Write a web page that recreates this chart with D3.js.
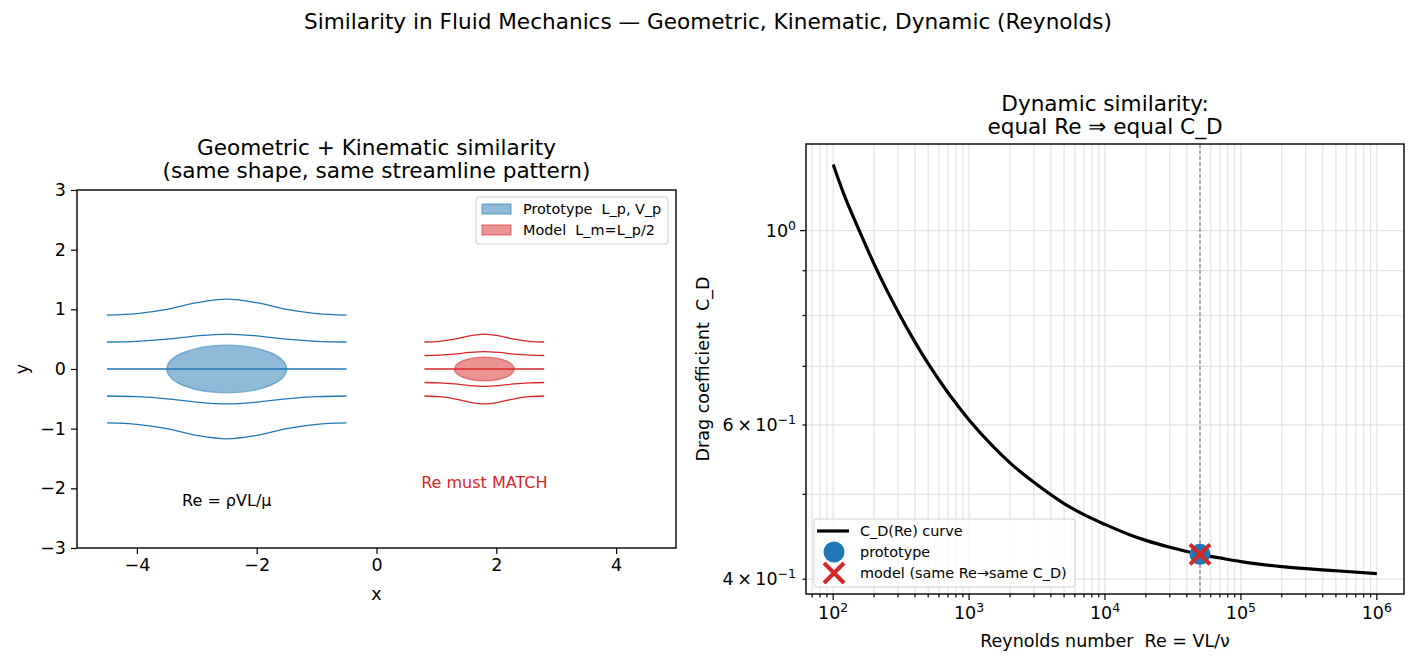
<!DOCTYPE html>
<html>
<head>
<meta charset="utf-8">
<script src="https://cdn.jsdelivr.net/npm/d3@7"></script>
<style>
body { margin: 0; background: #fff; }
text { font-family: "DejaVu Sans", sans-serif; fill: #000; white-space: pre; }
</style>
</head>
<body>
<div id="chart"></div>
<script>
// ---- left panel data ----
var bodyNames = ['Prototype  L_p, V_p', 'Model  L_m=L_p/2'];
var bodyCenters = [-2.5, 1.8];
var bodySemiX = [1.0, 0.5];
var bodySemiY = [0.4, 0.2];
var streamLevels = [[-0.9, -0.45, 0, 0.45, 0.9], [-0.45, -0.225, 0, 0.225, 0.45]];
// streamline shape: offset from body centre (in semi-lengths) and bulge factor
var streamDx = [-2, -1.5, -1, -0.5, 0, 0.5, 1, 1.5, 2];
var streamBulge = [1.005, 1.032, 1.11, 1.234, 1.3, 1.234, 1.11, 1.032, 1.005];

// ---- right panel data ----
var reValues = [100, 120, 150, 200, 250, 300, 400, 500, 700, 1e3, 1.5e3, 2e3, 3e3, 5e3, 7e3,
	1e4, 1.5e4, 2e4, 3e4, 5e4, 7e4, 1e5, 2e5, 5e5, 1e6];
var cdValues = [1.19, 1.10, 1.013, 0.916, 0.853, 0.808, 0.746, 0.705, 0.653, 0.608, 0.567, 0.543, 0.516, 0.488, 0.474,
	0.462, 0.450, 0.443, 0.435, 0.427, 0.423, 0.419, 0.4135, 0.409, 0.406];
var matchRe = 5e4;
var matchCd = 0.427;
var legendRight = ['C_D(Re) curve', 'prototype', 'model (same Re\u2192same C_D)'];

var blue = '#1f77b4', red = '#d62728';
var width = 1416, height = 665;
var tickFont = '17.5px', labelFont = '17.5px', titleFont = '21.6px', legendFont = '14.4px';

var svg = d3.select('#chart')
	.append('svg')
	.attr('width', width)
	.attr('height', height);

svg.append('text')
	.attr('x', 708).attr('y', 29)
	.attr('text-anchor', 'middle')
	.style('font-size', titleFont)
	.text('Similarity in Fluid Mechanics \u2014 Geometric, Kinematic, Dynamic (Reynolds)');

// ================= LEFT PANEL =================
var L = {left: 77, right: 676, top: 190, bottom: 548};
var x_left = d3.scaleLinear().domain([-5, 5]).range([L.left, L.right]);
var y_left = d3.scaleLinear().domain([-3, 3]).range([L.bottom, L.top]);

var gl = svg.append('g');

var line = d3.line()
	.x(function(d){ return x_left(d[0]); })
	.y(function(d){ return y_left(d[1]); })
	.curve(d3.curveMonotoneX);

// bodies
bodyCenters.forEach(function(cx, i){
	var col = i === 0 ? blue : red;
	gl.append('ellipse')
		.attr('cx', x_left(cx))
		.attr('cy', y_left(0))
		.attr('rx', x_left(cx + bodySemiX[i]) - x_left(cx))
		.attr('ry', y_left(0) - y_left(bodySemiY[i]))
		.attr('fill', col).attr('fill-opacity', 0.5)
		.attr('stroke', col).attr('stroke-opacity', 0.5).attr('stroke-width', 1.3);
});

// streamlines
bodyCenters.forEach(function(cx, i){
	var col = i === 0 ? blue : red;
	streamLevels[i].forEach(function(lv){
		var pts = streamDx.map(function(dx, k){
			return [cx + dx * bodySemiX[i], lv * streamBulge[k]];
		});
		gl.append('path')
			.attr('d', line(pts))
			.attr('fill', 'none')
			.attr('stroke', col)
			.attr('stroke-width', 1.3);
	});
});

gl.append('text')
	.attr('x', x_left(-2.5)).attr('y', y_left(-2.2) + 6)
	.attr('text-anchor', 'middle')
	.style('font-size', '16px')
	.text('Re = \u03c1VL/\u03bc');
gl.append('text')
	.attr('x', x_left(1.8)).attr('y', y_left(-1.9) + 6)
	.attr('text-anchor', 'middle')
	.style('font-size', '16px')
	.style('fill', red)
	.text('Re must MATCH');

// axes
var xAxisL = d3.axisBottom(x_left).tickValues([-4, -2, 0, 2, 4]).tickSize(6).tickPadding(5).tickFormat(d3.format('d'));
var yAxisL = d3.axisLeft(y_left).tickValues([-3, -2, -1, 0, 1, 2, 3]).tickSize(6).tickPadding(5).tickFormat(d3.format('d'));
gl.append('g').attr('transform', 'translate(0,' + L.bottom + ')').call(xAxisL);
gl.append('g').attr('transform', 'translate(' + L.left + ',0)').call(yAxisL);

gl.append('rect')
	.attr('x', L.left).attr('y', L.top)
	.attr('width', L.right - L.left).attr('height', L.bottom - L.top)
	.attr('fill', 'none').attr('stroke', '#000').attr('stroke-width', 1.4);

gl.append('text').attr('x', (L.left + L.right) / 2).attr('y', 600)
	.attr('text-anchor', 'middle').style('font-size', labelFont).text('x');
gl.append('text').attr('transform', 'translate(28,' + ((L.top + L.bottom) / 2) + ') rotate(-90)')
	.attr('text-anchor', 'middle').style('font-size', labelFont).text('y');

gl.append('text').attr('x', (L.left + L.right) / 2).attr('y', 155)
	.attr('text-anchor', 'middle').style('font-size', titleFont).text('Geometric + Kinematic similarity');
gl.append('text').attr('x', (L.left + L.right) / 2).attr('y', 178)
	.attr('text-anchor', 'middle').style('font-size', titleFont).text('(same shape, same streamline pattern)');

// legend (left)
var lg = gl.append('g');
lg.append('rect')
	.attr('x', 476).attr('y', 197).attr('width', 192).attr('height', 47).attr('rx', 3)
	.attr('fill', '#fff').attr('fill-opacity', 0.8).attr('stroke', '#d0d0d0');
bodyNames.forEach(function(name, i){
	var col = i === 0 ? blue : red;
	var cy = 209 + i * 21;
	lg.append('rect')
		.attr('x', 482).attr('y', cy - 5).attr('width', 29).attr('height', 10)
		.attr('fill', col).attr('fill-opacity', 0.5)
		.attr('stroke', col).attr('stroke-opacity', 0.5).attr('stroke-width', 1.3);
	lg.append('text').attr('x', 523).attr('y', cy + 5).style('font-size', legendFont).text(name);
});

// ================= RIGHT PANEL =================
var R = {left: 806, right: 1404, top: 144, bottom: 594};
// matplotlib-like 5% margins in log space
var lx = d3.extent(reValues).map(Math.log10), ly = d3.extent(cdValues).map(Math.log10);
var mx = (lx[1] - lx[0]) * 0.05, my = (ly[1] - ly[0]) * 0.05;
var x_right = d3.scaleLog().domain([Math.pow(10, lx[0] - mx), Math.pow(10, lx[1] + mx)]).range([R.left, R.right]);
var y_right = d3.scaleLog().domain([Math.pow(10, ly[0] - my), Math.pow(10, ly[1] + my)]).range([R.bottom, R.top]);

var gr = svg.append('g');

var xTicksAll = x_right.ticks().filter(function(t){ var d = x_right.domain(); return t >= d[0] && t <= d[1]; });
var yTicksAll = y_right.ticks().filter(function(t){ var d = y_right.domain(); return t >= d[0] && t <= d[1]; });

// grid
gr.selectAll('line.gx').data(xTicksAll).enter().append('line')
	.attr('x1', function(d){ return x_right(d); }).attr('x2', function(d){ return x_right(d); })
	.attr('y1', R.top).attr('y2', R.bottom)
	.attr('stroke', '#e2e2e2').attr('stroke-width', 1.2);
gr.selectAll('line.gy').data(yTicksAll).enter().append('line')
	.attr('y1', function(d){ return y_right(d); }).attr('y2', function(d){ return y_right(d); })
	.attr('x1', R.left).attr('x2', R.right)
	.attr('stroke', '#e2e2e2').attr('stroke-width', 1.2);

// dashed match line
gr.append('line')
	.attr('x1', x_right(matchRe)).attr('x2', x_right(matchRe))
	.attr('y1', R.top).attr('y2', R.bottom)
	.attr('stroke', '#808080').attr('stroke-width', 1.1).attr('stroke-dasharray', '4,2');

// curve
var cdLine = d3.line()
	.x(function(d, i){ return x_right(reValues[i]); })
	.y(function(d){ return y_right(d); })
	.curve(d3.curveMonotoneX);
gr.append('path').attr('d', cdLine(cdValues))
	.attr('fill', 'none').attr('stroke', '#000').attr('stroke-width', 3.2);

function xMark(g, cx, cy, s){
	g.append('path')
		.attr('d', 'M' + (cx - s) + ',' + (cy - s) + 'L' + (cx + s) + ',' + (cy + s) + 'M' + (cx - s) + ',' + (cy + s) + 'L' + (cx + s) + ',' + (cy - s))
		.attr('stroke', red).attr('stroke-width', 4).attr('fill', 'none');
}

gr.append('circle').attr('cx', x_right(matchRe)).attr('cy', y_right(matchCd)).attr('r', 10.5).attr('fill', blue);
xMark(gr, x_right(matchRe), y_right(matchCd), 10);

// axes
var isDecade = function(t){ return Math.abs(Math.log10(t) - Math.round(Math.log10(t))) < 1e-9; };
var xAxisR = gr.append('g').attr('transform', 'translate(0,' + R.bottom + ')');
xAxisR.selectAll('line').data(xTicksAll).enter().append('line')
	.attr('x1', function(d){ return x_right(d); }).attr('x2', function(d){ return x_right(d); })
	.attr('y1', 0).attr('y2', function(d){ return isDecade(d) ? 6 : 3.5; })
	.attr('stroke', '#000').attr('stroke-width', 1.2);
var xlab = xAxisR.selectAll('text').data(xTicksAll.filter(isDecade)).enter().append('text')
	.attr('x', function(d){ return x_right(d); }).attr('y', 25)
	.attr('text-anchor', 'middle').style('font-size', tickFont);
xlab.append('tspan').text('10');
xlab.append('tspan').attr('dy', -7).style('font-size', '12.5px').text(function(d){ return Math.round(Math.log10(d)); });

var yLabels = {1: ['10', '0'], 0.6: ['6\u2009\u00d7\u200910', '\u22121'], 0.4: ['4\u2009\u00d7\u200910', '\u22121']};
var yAxisR = gr.append('g').attr('transform', 'translate(' + R.left + ',0)');
yAxisR.selectAll('line').data(yTicksAll).enter().append('line')
	.attr('y1', function(d){ return y_right(d); }).attr('y2', function(d){ return y_right(d); })
	.attr('x1', 0).attr('x2', function(d){ return isDecade(d) ? -6 : -3.5; })
	.attr('stroke', '#000').attr('stroke-width', 1.2);
var ylab = yAxisR.selectAll('text').data(yTicksAll.filter(function(d){ return yLabels[d]; })).enter().append('text')
	.attr('x', -10).attr('y', function(d){ return y_right(d) + 6; })
	.attr('text-anchor', 'end').style('font-size', tickFont);
ylab.append('tspan').text(function(d){ return yLabels[d][0]; });
ylab.append('tspan').attr('dy', -7).style('font-size', '12.5px').text(function(d){ return yLabels[d][1]; });

gr.append('rect')
	.attr('x', R.left).attr('y', R.top)
	.attr('width', R.right - R.left).attr('height', R.bottom - R.top)
	.attr('fill', 'none').attr('stroke', '#000').attr('stroke-width', 1.4);

gr.append('text').attr('x', (R.left + R.right) / 2).attr('y', 647)
	.attr('text-anchor', 'middle').style('font-size', labelFont).text('Reynolds number  Re = VL/\u03bd');
gr.append('text').attr('transform', 'translate(709,' + ((R.top + R.bottom) / 2) + ') rotate(-90)')
	.attr('text-anchor', 'middle').style('font-size', labelFont).text('Drag coefficient  C_D');

gr.append('text').attr('x', (R.left + R.right) / 2).attr('y', 111)
	.attr('text-anchor', 'middle').style('font-size', titleFont).text('Dynamic similarity:');
gr.append('text').attr('x', (R.left + R.right) / 2).attr('y', 134)
	.attr('text-anchor', 'middle').style('font-size', titleFont).text('equal Re \u21d2 equal C_D');

// legend (right)
var rg = gr.append('g');
rg.append('rect')
	.attr('x', 814).attr('y', 519).attr('width', 261).attr('height', 68).attr('rx', 3)
	.attr('fill', '#fff').attr('fill-opacity', 0.8).attr('stroke', '#d0d0d0');
rg.append('line').attr('x1', 817).attr('x2', 849).attr('y1', 531).attr('y2', 531)
	.attr('stroke', '#000').attr('stroke-width', 3.2);
rg.append('circle').attr('cx', 834).attr('cy', 552).attr('r', 10.5).attr('fill', blue);
xMark(rg, 834, 573, 10);
legendRight.forEach(function(t, i){
	rg.append('text').attr('x', 860).attr('y', 536 + i * 21).style('font-size', legendFont).text(t);
});

// tick label fonts for d3 axes
svg.selectAll('.tick text').style('font-size', tickFont).style('font-family', '"DejaVu Sans", sans-serif').attr('fill', '#000');
svg.selectAll('.domain').remove();
svg.selectAll('.tick line').attr('stroke-width', 1.2);
</script>
</body>
</html>
